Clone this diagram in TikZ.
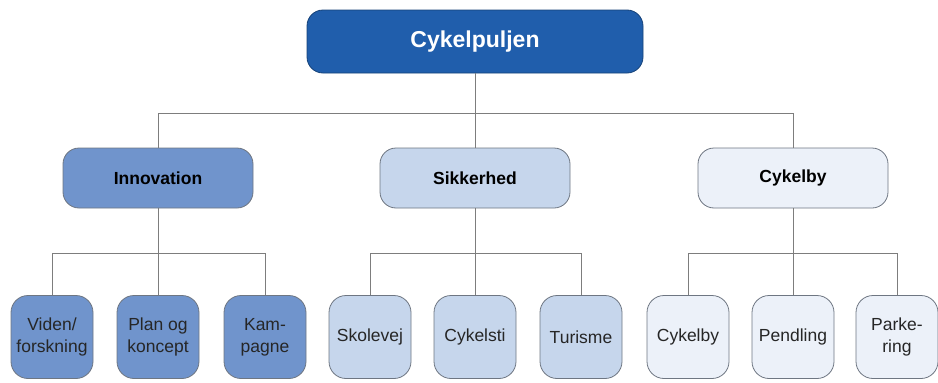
\documentclass[tikz,border=0pt]{standalone}
\usepackage{fontspec}
\setmainfont{Liberation Sans}
\definecolor{topc}{RGB}{32,94,172}
\definecolor{innc}{RGB}{112,148,204}
\definecolor{sikc}{RGB}{198,214,236}
\definecolor{cykc}{RGB}{236,241,249}
\definecolor{bordc}{RGB}{110,118,130}
\definecolor{linec}{RGB}{125,125,125}
\begin{document}
\begin{tikzpicture}[x=1pt,y=-1pt,
  boxbase/.style={draw=bordc, line width=0.8pt, align=center, inner sep=0pt},
  topbox/.style={boxbase, draw=topc!70!black, fill=topc, text=white, minimum width=336pt, minimum height=63pt, rounded corners=16pt, font=\bfseries\fontsize{23}{27}\selectfont},
  midbox/.style={boxbase, minimum width=190pt, minimum height=60pt, rounded corners=16pt, font=\bfseries\fontsize{17.5}{21}\selectfont},
  leafbox/.style={boxbase, minimum width=82pt, minimum height=83pt, rounded corners=17pt, font=\fontsize{17.5}{22}\selectfont, text=black!85},
  conn/.style={draw=linec, line width=0.9pt}
]
\useasboundingbox (0,0) rectangle (938,383);
\node[topbox] (top) at (475,41.5) {Cykelpuljen};
\node[midbox, fill=innc] (inn) at (158,178) {Innovation};
\node[midbox, fill=sikc] (sik) at (475,178) {Sikkerhed};
\node[midbox, fill=cykc] (cyk) at (793,178) {Cykelby};

\node[leafbox, fill=innc] (l1) at (52,337) {Viden/\\forskning};
\node[leafbox, fill=innc] (l2) at (158,337) {Plan og\\koncept};
\node[leafbox, fill=innc] (l3) at (265,337) {Kam-\\pagne};
\node[leafbox, fill=sikc] (l4) at (370,337) {Skolevej};
\node[leafbox, fill=sikc] (l5) at (475,337) {Cykelsti};
\node[leafbox, fill=sikc] (l6) at (581,337) {Turisme};
\node[leafbox, fill=cykc] (l7) at (688,337) {Cykelby};
\node[leafbox, fill=cykc] (l8) at (793,337) {Pendling};
\node[leafbox, fill=cykc] (l9) at (897,337) {Parke-\\ring};

\coordinate (b0) at (475,113);
\coordinate (b1) at (158,253);
\coordinate (b2) at (475,253);
\coordinate (b3) at (793,253);

\draw[conn] (top.south) -- (b0);
\draw[conn] (b0) -| (inn.north);
\draw[conn] (b0) -| (cyk.north);
\draw[conn] (b0) -- (sik.north);
\draw[conn] (inn.south) -- (b1);
\draw[conn] (b1) -| (l1.north);
\draw[conn] (b1) -| (l3.north);
\draw[conn] (b1) -- (l2.north);
\draw[conn] (sik.south) -- (b2);
\draw[conn] (b2) -| (l4.north);
\draw[conn] (b2) -| (l6.north);
\draw[conn] (b2) -- (l5.north);
\draw[conn] (cyk.south) -- (b3);
\draw[conn] (b3) -| (l7.north);
\draw[conn] (b3) -| (l9.north);
\draw[conn] (b3) -- (l8.north);
\end{tikzpicture}
\end{document}
